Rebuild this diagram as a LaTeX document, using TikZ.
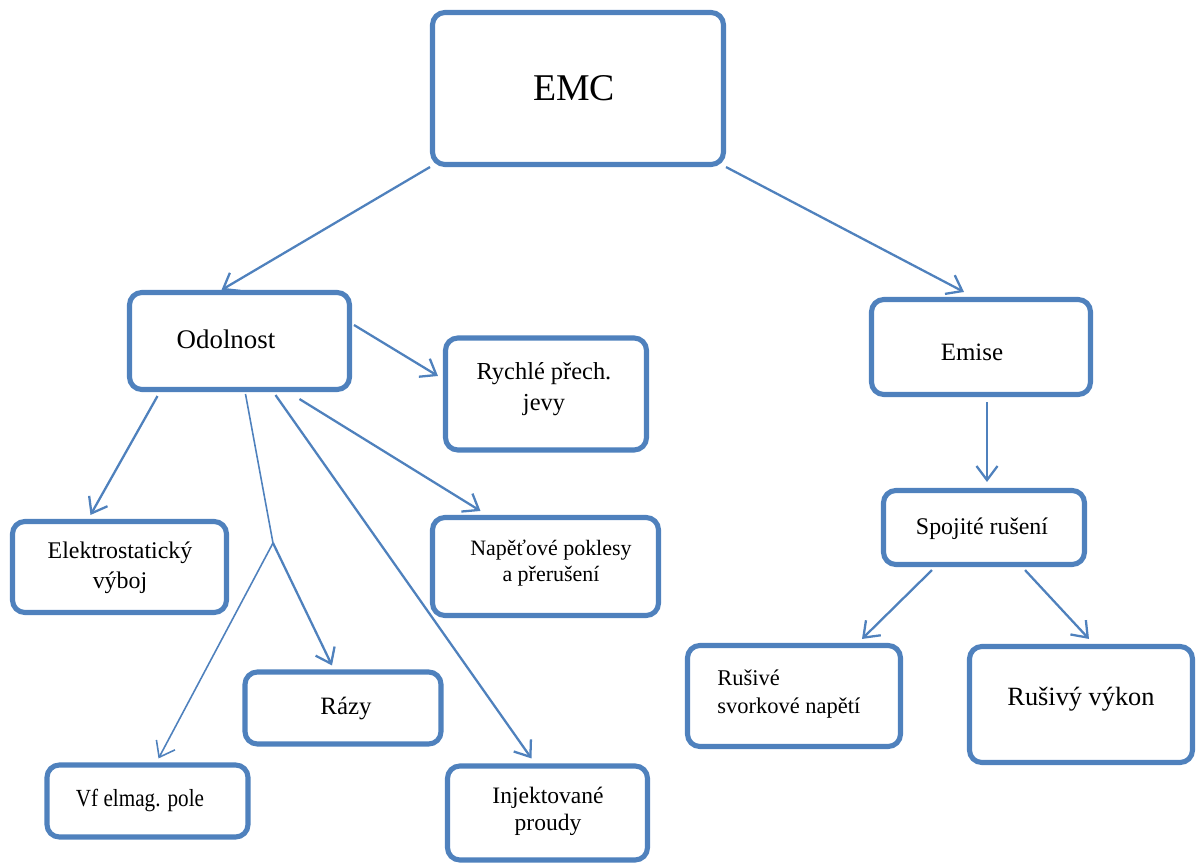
\documentclass[tikz,border=0pt]{standalone}
\usepackage{fontspec}
\setmainfont{LiberationSerif}[Extension=.ttf,UprightFont=*-Regular,BoldFont=*-Bold,ItalicFont=*-Italic]
\usetikzlibrary{arrows.meta,calc}
\definecolor{boxblue}{RGB}{79,129,189}
\newcommand{\fsz}[2]{\fontsize{#1}{#2}\selectfont}
\tikzset{box/.style={draw=boxblue,line width=2.9pt,rounded corners=7pt,inner sep=0pt}}
\tikzset{txt/.style={inner sep=0pt,align=center}}
\tikzset{arr/.style={draw=boxblue,line width=1.3pt,-{Straight Barb[length=8pt,width=12pt]}}}
\tikzset{fineline/.style={draw=boxblue,line width=0.9pt}}

\begin{document}
\begin{tikzpicture}[x=0.02cm,y=-0.02cm]
\useasboundingbox (0,0) rectangle (1198,866);
% boxes
\node[box,minimum width=5.82cm,minimum height=3.04cm] (emc) at (578,88.5) {};
\node[box,minimum width=4.40cm,minimum height=1.94cm] (odol) at (239.5,341) {};
\node[box,minimum width=4.02cm,minimum height=2.24cm] (rychle) at (546,394) {};
\node[box,minimum width=4.38cm,minimum height=1.90cm] (emise) at (981,347) {};
\node[box,minimum width=4.28cm,minimum height=1.82cm] (elektro) at (119.5,567) {};
\node[box,minimum width=4.52cm,minimum height=1.96cm] (napet) at (545.5,566.5) {};
\node[box,minimum width=4.02cm,minimum height=1.48cm] (spoj) at (984,527.5) {};
\node[box,minimum width=4.26cm,minimum height=2.02cm] (rusive) at (794,696) {};
\node[box,minimum width=4.46cm,minimum height=2.32cm] (vykon) at (1081,704.5) {};
\node[box,minimum width=3.92cm,minimum height=1.44cm] (razy) at (343,708) {};
\node[box,minimum width=4.02cm,minimum height=1.44cm] (vf) at (147.5,801) {};
\node[box,minimum width=4.00cm,minimum height=1.88cm] (injekt) at (547.5,813) {};
% texts
\node[txt,font=\fsz{21.5}{26}] (emc-t) at (574,88) {EMC};
\node[txt,font=\fsz{15.3}{18}] (odol-t) at (226,339) {Odolnost};
\node[txt,font=\fsz{13.9}{18}] (rychle-t) at (544,389) {Rychlé přech.\\jevy};
\node[txt,font=\fsz{14.2}{17}] (emise-t) at (972,352) {Emise};
\node[txt,font=\fsz{13.6}{17}] (elektro-t) at (120,568) {Elektrostatický\\výboj};
\node[txt,font=\fsz{12.5}{14.7}] (napet-t) at (551,563) {Napěťové poklesy\\a přerušení};
\node[txt,font=\fsz{13.6}{17}] (spoj-t) at (982,529) {Spojité rušení};
\node[txt,font=\fsz{12.8}{16},align=left,anchor=west] (rusive-t) at (717,694) {Rušivé\\svorkové napětí};
\node[txt,font=\fsz{15}{18}] (vykon-t) at (1081,699) {Rušivý výkon};
\node[txt,font=\fsz{14.2}{17}] (razy-t) at (346,709) {Rázy};
\node[txt,font=\fsz{14}{17},xscale=0.86,transform shape] (vf-t) at (140,800) {Vf elmag. pole};
\node[txt,font=\fsz{13.4}{15.3}] (injekt-t) at (548,811) {Injektované\\proudy};
% connectors
\coordinate (jn) at (273,543);
\draw[arr] (emc.south west) -- ($(odol.north)+(-18,0)$);
\draw[arr] (emc.south east) -- ($(emise.north)+(-17,-5)$);
\draw[arr] ($(odol.east)+(2,-16)$) -- ($(rychle.west)+(-5,-18)$);
\draw[arr] ($(odol.south)+(-82,4)$) -- ($(elektro.north)+(-29,-4)$);
\draw[fineline] ($(odol.south)+(6,2)$) -- (jn);
\draw[arr] (jn) -- ($(razy.north)+(-11,-4)$);
\draw[arr,line width=0.9pt] (jn) -- ($(vf.north)+(11,-4)$);
\draw[arr] ($(odol.south)+(36,3)$) -- ($(injekt.north)+(-16,-5)$);
\draw[arr] ($(odol.south)+(60,7)$) -- ($(napet.north)+(-65,-4)$);
\draw[arr] ($(emise.south)+(6,5)$) -- ($(spoj.north)+(3,-6)$);
\draw[arr] ($(spoj.south)+(-52,3)$) -- ($(rusive.north)+(68,-4)$);
\draw[arr] ($(spoj.south)+(41,3)$) -- ($(vykon.north)+(8,-5)$);
\end{tikzpicture}
\end{document}
